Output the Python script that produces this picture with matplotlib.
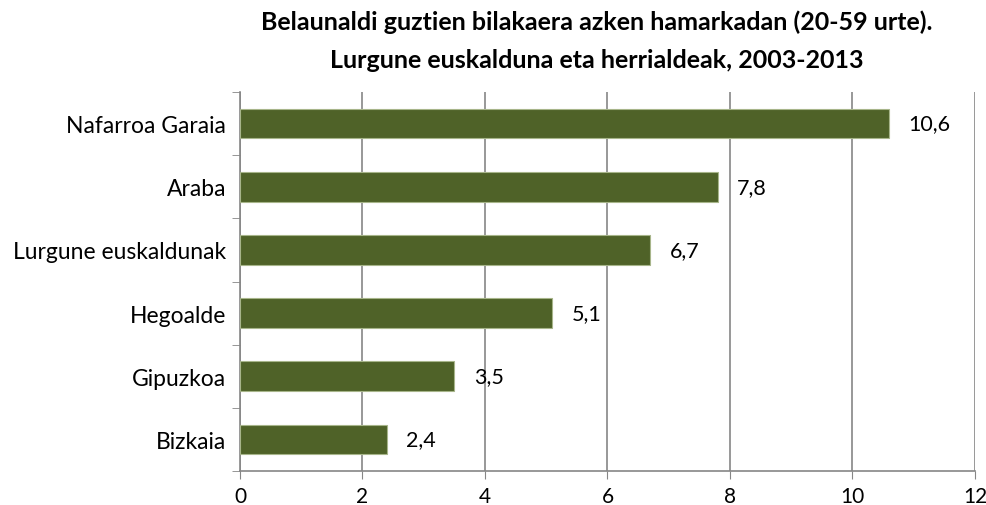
import matplotlib.pyplot as plt
import numpy as np

# data (bottom to top order as in the chart)
categories = ["Bizkaia", "Gipuzkoa", "Hegoalde", "Lurgune euskaldunak", "Araba", "Nafarroa Garaia"]
values = [2.4, 3.5, 5.1, 6.7, 7.8, 10.6]
xticks = [0, 2, 4, 6, 8, 10, 12]

plt.rcParams['font.family'] = ['Lato', 'DejaVu Sans']

fig = plt.figure(figsize=(9.87, 5.06), dpi=100)
ax = fig.add_axes([240/987, 34/506, 735/987, 379/506])

y = np.arange(len(categories))
ax.barh(y, values, height=0.47, color='#4F6228', edgecolor='#A7B58A', linewidth=0.8, zorder=3)

for yi, v in zip(y, values):
    ax.annotate(f"{v:.1f}".replace('.', ','), (v, yi), xytext=(14, 0), textcoords='offset points',
                va='center', ha='left', fontsize=15.5)

ax.set_xlim(0, 12)
ax.set_ylim(-0.5, len(categories) - 0.5)
ax.set_xticks(xticks)
ax.set_xticklabels([str(t) for t in xticks], fontsize=15)
ax.set_yticks(y)
ax.set_yticklabels(categories, fontsize=16.5)
ax.set_yticks(np.arange(len(categories) + 1) - 0.5, minor=True)
ax.tick_params(axis='y', which='major', length=0, pad=10)
ax.tick_params(axis='y', which='minor', length=6, color='#868686', direction='out')
ax.tick_params(axis='x', length=6, color='#868686', direction='out', pad=5)

ax.grid(axis='x', color='#868686', linewidth=1.2, zorder=0)
ax.set_axisbelow(True)
for s in ['top', 'right']:
    ax.spines[s].set_visible(False)
for s in ['left', 'bottom']:
    ax.spines[s].set_color('#868686')
    ax.spines[s].set_linewidth(1.2)

fig.text(597/987, 1 - 22/506, "Belaunaldi guztien bilakaera azken hamarkadan (20-59 urte).",
         ha='center', va='center', fontsize=18, fontweight='bold')
fig.text(597/987, 1 - 60/506, "Lurgune euskalduna eta herrialdeak, 2003-2013",
         ha='center', va='center', fontsize=18, fontweight='bold')

fig.savefig('out.png', dpi=100)
